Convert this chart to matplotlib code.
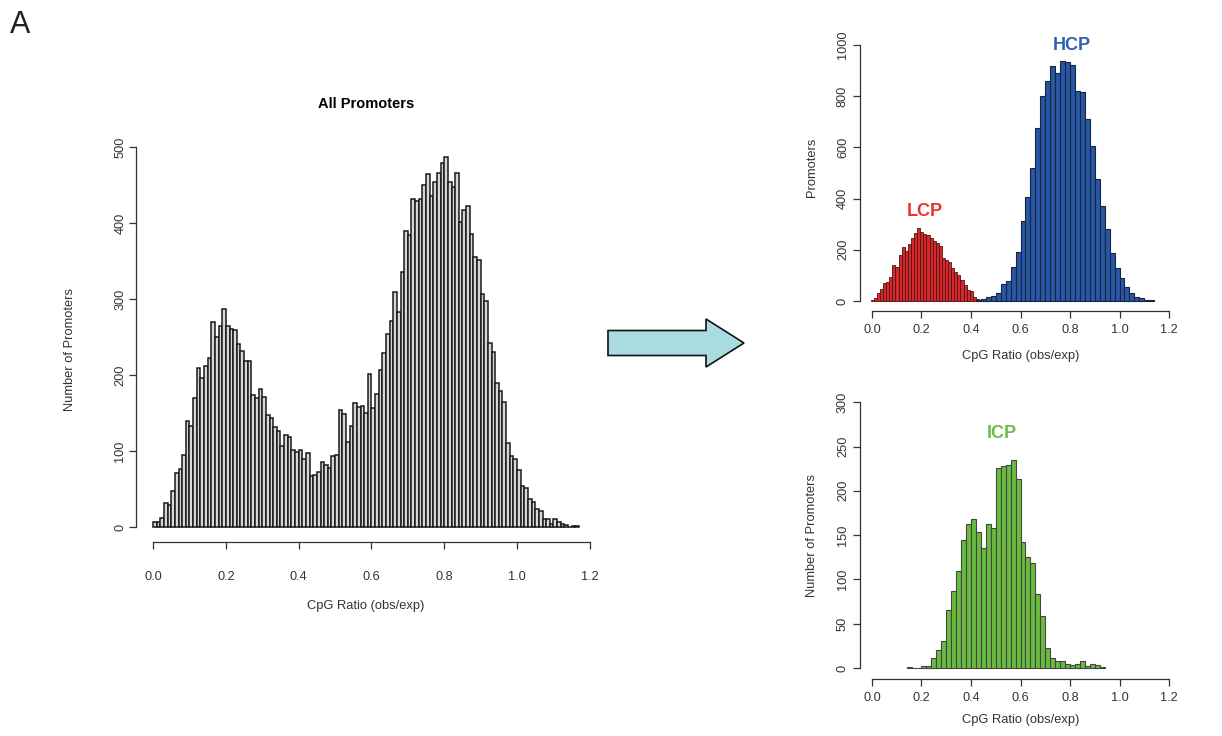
import numpy as np
import matplotlib
matplotlib.use("Agg")
import matplotlib.pyplot as plt
from matplotlib.patches import FancyArrow

plt.rcParams['font.family'] = ['Liberation Sans', 'DejaVu Sans']

# all promoters, bins of 0.01 starting at 0.0
main_start = 0.0
main_width = 0.01
main_counts = [7, 7, 12, 31, 29, 47, 71, 76, 95, 140, 133, 170, 209, 196, 212, 222, 270, 250, 265, 287,
               264, 260, 259, 241, 232, 219, 219, 174, 170, 182, 171, 148, 143, 132, 126, 107, 121, 118, 101,
               99, 101, 90, 98, 67, 69, 72, 86, 82, 78, 94, 95, 154, 149, 112, 133, 163, 158, 159, 150,
               201, 157, 175, 207, 229, 254, 271, 309, 283, 335, 390, 384, 431, 429, 431, 450, 464, 436,
               454, 466, 479,
               487, 454, 447, 466, 401, 417, 422, 386, 355, 351, 307, 297, 242, 230, 190, 179, 165, 111,
               94, 90, 75, 54, 51, 37, 33, 24, 21, 10, 10, 4, 10, 6, 4, 2, 0, 1, 1]

# low CpG promoters
lcp_start = -0.005
lcp_width = 0.0125
lcp_counts = [4, 10, 33, 46, 69, 75, 95, 141, 134, 180, 212, 197, 223, 245, 264, 285, 271, 262, 258,
              245, 236, 225, 216, 167, 160, 154, 128, 115, 102, 82, 62, 43, 39, 17, 9, 4, 2]

# high CpG promoters
hcp_start = 0.42
hcp_width = 0.02
hcp_counts = [2, 6, 14, 21, 30, 65, 78, 134, 193, 312, 408, 518, 674, 802, 861, 918, 892, 939, 935,
              922, 822, 815, 711, 607, 477, 372, 281, 186, 130, 91, 56, 30, 14, 10, 4, 2]

# intermediate CpG promoters
icp_start = 0.14
icp_width = 0.02
icp_counts = [1, 0, 0, 2, 2, 11, 20, 31, 65, 87, 109, 145, 162, 168, 153, 135, 162, 158, 226, 228,
              229, 235, 213, 142, 125, 118, 83, 59, 23, 11, 8, 8, 5, 3, 5, 8, 2, 5, 3, 1]

xticks = [0.0, 0.2, 0.4, 0.6, 0.8, 1.0, 1.2]
xticklabels = ['0.0', '0.2', '0.4', '0.6', '0.8', '1.0', '1.2']

W, H = 1222, 736
fig = plt.figure(figsize=(W / 100, H / 100), dpi=100)
fig.patch.set_facecolor('white')


def px_axes(left, right, top, bottom):
    return fig.add_axes([left / W, (H - bottom) / H, (right - left) / W, (bottom - top) / H])


def r_style(ax, ybounds, yticks, xpad, ypad):
    for s in ['top', 'right']:
        ax.spines[s].set_visible(False)
    for s in ['left', 'bottom']:
        ax.spines[s].set_color('#333333')
        ax.spines[s].set_linewidth(0.9)
    ax.spines['left'].set_bounds(*ybounds)
    ax.spines['bottom'].set_bounds(0, 1.2)
    ax.set_xticks(xticks)
    ax.set_xticklabels(xticklabels)
    ax.set_yticks(yticks)
    ax.tick_params(direction='out', length=5, width=0.9, color='#333333',
                   labelsize=9.2, labelcolor='#333333')
    ax.tick_params(axis='x', pad=xpad)
    ax.tick_params(axis='y', pad=ypad, labelrotation=90)
    for t in ax.get_yticklabels():
        t.set_va('center')


def hist_bars(ax, start, width, counts, **kw):
    left = start + width * np.arange(len(counts))
    ax.bar(left, counts, width=width, align='edge', **kw)


# main panel
ax1 = px_axes(136, 596, 141.7, 541.8)
hist_bars(ax1, main_start, main_width, main_counts,
          facecolor='#d9d6d5', edgecolor='#1a1a1a', linewidth=1.1)
ax1.set_xlim(-0.047, 1.217)
ax1.set_ylim(-19.5, 507)
r_style(ax1, (0, 500), [0, 100, 200, 300, 400, 500], xpad=16, ypad=2)
ax1.set_title('All Promoters', fontsize=10.5, fontweight='bold', pad=24)
ax1.set_xlabel('CpG Ratio (obs/exp)', fontsize=9.3, color='#333333')
ax1.xaxis.set_label_coords(0.5, -0.145)
ax1.set_ylabel('Number of Promoters', fontsize=9.3, color='#333333')
ax1.yaxis.set_label_coords(-0.13, 0.48)

# top right: LCP and HCP
ax2 = px_axes(860.1, 1180.9, 34.8, 311.2)
hist_bars(ax2, lcp_start, lcp_width, lcp_counts,
          facecolor='#d8262a', edgecolor='#4a1515', linewidth=0.6)
hist_bars(ax2, hcp_start, hcp_width, hcp_counts,
          facecolor='#2757a6', edgecolor='#17253d', linewidth=0.8)
ax2.set_xlim(-0.048, 1.248)
ax2.set_ylim(-40, 1040)
r_style(ax2, (0, 1000), [0, 200, 400, 600, 800, 1000], xpad=4, ypad=3)
ax2.set_xlabel('CpG Ratio (obs/exp)', fontsize=9.3, color='#333333')
ax2.xaxis.set_label_coords(0.5, -0.14)
ax2.set_ylabel('Promoters', fontsize=9.3, color='#333333')
ax2.yaxis.set_label_coords(-0.13, 0.52)
ax2.text(0.214, 348, 'LCP', color='#e8332f', fontsize=13, fontweight='bold',
         ha='center', va='center')
ax2.text(0.808, 1000, 'HCP', color='#2f5fb0', fontsize=13, fontweight='bold',
         ha='center', va='center')

# bottom right: ICP
ax3 = px_axes(860.1, 1180.9, 391.6, 678.6)
hist_bars(ax3, icp_start, icp_width, icp_counts,
          facecolor='#68bc3e', edgecolor='#444444', linewidth=0.8)
ax3.set_xlim(-0.048, 1.248)
ax3.set_ylim(-12, 312)
r_style(ax3, (0, 300), [0, 50, 100, 150, 200, 250, 300], xpad=5, ypad=3)
ax3.set_xlabel('CpG Ratio (obs/exp)', fontsize=9.3, color='#333333')
ax3.xaxis.set_label_coords(0.5, -0.125)
ax3.set_ylabel('Number of Promoters', fontsize=9.3, color='#333333')
ax3.yaxis.set_label_coords(-0.13, 0.5)
ax3.text(0.525, 265, 'ICP', color='#6bbd45', fontsize=13, fontweight='bold',
         ha='center', va='center')

# arrow between panels
fig.add_artist(FancyArrow(608 / W, 1 - 343 / H, (744 - 608) / W, 0,
                          width=25 / H, head_width=48 / H, head_length=38 / W,
                          length_includes_head=True, transform=fig.transFigure,
                          facecolor='#a9dbe0', edgecolor='#111111', linewidth=1.2))

fig.text(10 / W, 1 - 25 / H, 'A', fontsize=22, color='#222222', va='center', ha='left')

fig.savefig('out.png', dpi=100)
